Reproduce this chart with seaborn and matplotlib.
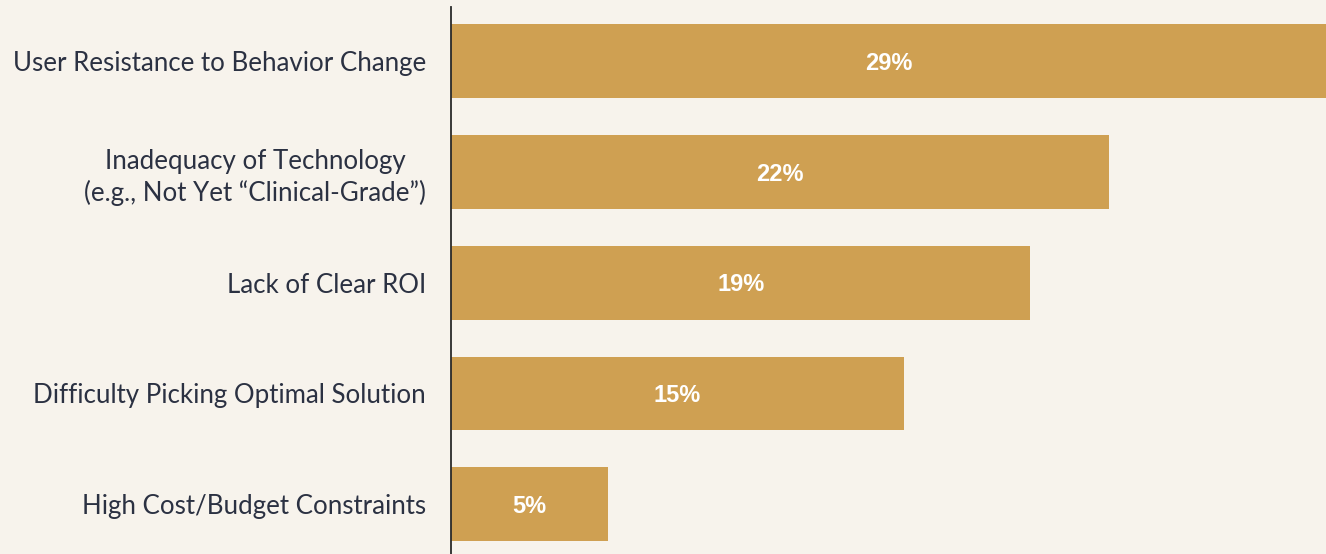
import pandas as pd
import matplotlib
matplotlib.use("Agg")
import matplotlib.pyplot as plt
import seaborn as sns

# data
categories = [
    "User Resistance to Behavior Change",
    "Inadequacy of Technology\n(e.g., Not Yet \u201cClinical-Grade\u201d)",
    "Lack of Clear ROI",
    "Difficulty Picking Optimal Solution",
    "High Cost/Budget Constraints",
]
shares = [29.0, 21.8, 19.2, 15.0, 5.2]
share_labels = ["29%", "22%", "19%", "15%", "5%"]

BG = "#f7f3ec"
BAR = "#cfa052"
TEXT = "#2b3142"

df = pd.DataFrame({"category": categories, "share": shares})

sns.set_theme(style="white")
plt.rcParams["font.family"] = ["Lato", "DejaVu Sans"]

fig = plt.figure(figsize=(13.26, 5.54), dpi=100, facecolor=BG)
ax = fig.add_axes([451 / 1326, 0, 1 - 451 / 1326, 1 - 7 / 554])
ax.set_facecolor(BG)

sns.barplot(data=df, y="category", x="share", orient="h", color=BAR,
            width=0.665, saturation=1, linewidth=0, ax=ax)

ax.set_xlim(0, 29)
ax.set_ylim(4.45, -0.49)

for i, (v, lab) in enumerate(zip(shares, share_labels)):
    ax.text(v / 2, i + 0.02, lab, ha="center", va="center", color="white",
            fontsize=17, fontweight="bold", family="Liberation Sans")

for s in ["top", "right", "bottom"]:
    ax.spines[s].set_visible(False)
ax.spines["left"].set_color("#2a2a2a")
ax.spines["left"].set_linewidth(1.3)

ax.set_xticks([])
ax.set_xlabel("")
ax.set_ylabel("")
ax.tick_params(axis="y", length=0, pad=18, labelsize=18.6, labelcolor=TEXT)
for lbl in ax.get_yticklabels():
    lbl.set_horizontalalignment("right")
    lbl.set_multialignment("center")
    lbl.set_linespacing(1.3)

fig.savefig("out.png", dpi=100, facecolor=BG)
